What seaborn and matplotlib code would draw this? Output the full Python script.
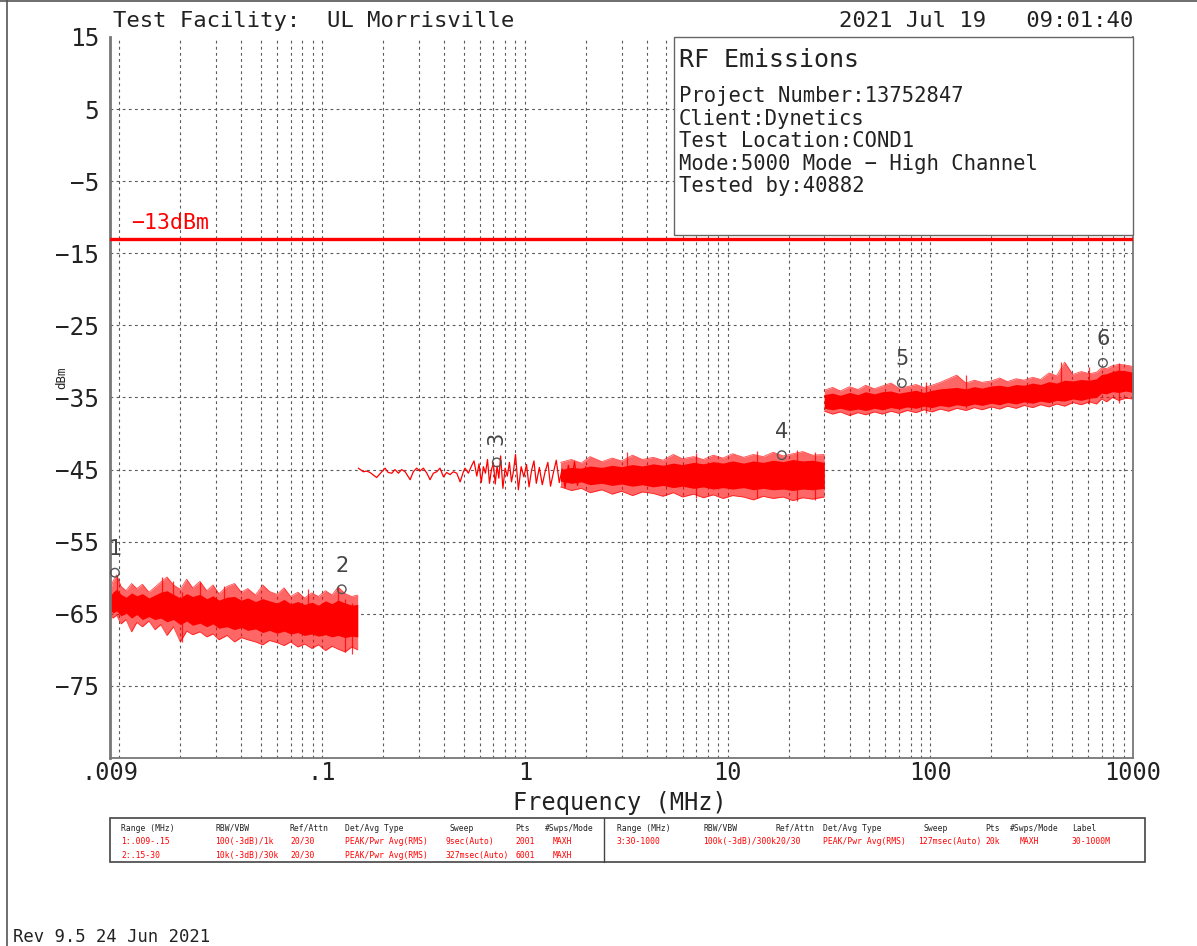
import numpy as np
import pandas as pd
import matplotlib
matplotlib.use("Agg")
import matplotlib.pyplot as plt
import seaborn as sns
from matplotlib.patches import Rectangle
from matplotlib.lines import Line2D
from matplotlib.ticker import FixedLocator, FixedFormatter, NullLocator

# ---------------- data ----------------
# Segment 1: 0.009 - 0.15 MHz (band envelopes, dBm)
seg1_f = [0.009, 0.0093, 0.0097, 0.0102, 0.0108, 0.0115, 0.0122, 0.013, 0.014, 0.015,
          0.016, 0.0172, 0.0185, 0.02, 0.0215, 0.023, 0.025, 0.027, 0.029, 0.031,
          0.034, 0.037, 0.04, 0.043, 0.047, 0.051, 0.055, 0.06, 0.065, 0.07,
          0.076, 0.082, 0.089, 0.096, 0.104, 0.112, 0.12, 0.13, 0.14, 0.15]
seg1_out_hi = [-62.0, -60.5, -59.6, -61.2, -61.8, -60.8, -61.5, -60.9, -62.0, -61.3,
               -60.6, -59.9, -61.0, -61.6, -60.2, -61.4, -60.5, -61.8, -61.0, -62.2,
               -61.2, -60.8, -62.0, -61.5, -62.4, -61.0, -61.9, -62.3, -61.4, -62.6,
               -62.0, -62.8, -62.1, -62.6, -61.8, -62.4, -61.3, -62.2, -62.6, -62.4]
seg1_core_hi = [-62.6, -62.0, -61.6, -62.3, -62.7, -62.1, -62.5, -62.2, -62.8, -62.4,
                -62.0, -61.8, -62.3, -62.8, -62.2, -62.6, -62.3, -62.9, -62.5, -63.1,
                -62.7, -62.6, -63.1, -62.8, -63.3, -62.9, -63.2, -63.5, -63.0, -63.6,
                -63.3, -63.7, -63.4, -63.8, -63.2, -63.6, -63.1, -63.5, -63.8, -63.7]
seg1_core_lo = [-64.4, -64.9, -64.6, -65.3, -64.9, -65.6, -65.1, -65.8, -65.4, -65.8,
                -65.6, -66.1, -65.8, -66.5, -66.0, -66.6, -66.3, -66.8, -66.4, -67.0,
                -66.8, -67.2, -66.9, -67.3, -67.1, -67.6, -67.3, -67.7, -67.4, -67.8,
                -67.6, -68.0, -67.8, -68.1, -67.9, -68.2, -68.0, -68.3, -68.1, -68.2]
seg1_out_lo = [-65.0, -65.6, -65.2, -66.4, -65.8, -67.5, -66.2, -66.8, -66.0, -67.2,
               -66.5, -68.0, -66.8, -68.9, -67.4, -67.9, -67.5, -68.2, -67.8, -68.6,
               -68.0, -68.9, -68.3, -68.6, -68.9, -69.3, -68.7, -69.0, -69.4, -68.9,
               -69.6, -69.2, -69.8, -69.3, -70.1, -69.5, -69.9, -70.3, -69.6, -70.0]

# Segment 2, sparse part of the trace: 0.15 - 2 MHz (dBm)
trace2_f = [0.151, 0.160, 0.166, 0.1725, 0.186, 0.197, 0.2046, 0.212, 0.221, 0.229,
            0.238, 0.247, 0.257, 0.272, 0.282, 0.293, 0.304, 0.316, 0.329, 0.341,
            0.354, 0.368, 0.382, 0.397, 0.412, 0.428, 0.444, 0.462, 0.480, 0.498,
            0.507, 0.527, 0.548, 0.562,
            0.58, 0.595, 0.61, 0.625, 0.64, 0.655, 0.67, 0.685, 0.70, 0.715,
            0.73, 0.745, 0.76, 0.78, 0.80, 0.82, 0.84, 0.86, 0.88, 0.90,
            0.93, 0.96, 0.99, 1.02, 1.05, 1.08, 1.11, 1.14, 1.18, 1.22,
            1.26, 1.30, 1.34, 1.38, 1.43, 1.48, 1.53, 1.58, 1.64, 1.70,
            1.76, 1.82, 1.88, 1.94, 2.0]
trace2_db = [-44.8, -45.3, -45.2, -45.4, -46.1, -45.3, -44.8, -45.4, -45.5, -45.0,
             -45.5, -45.0, -45.3, -46.4, -45.3, -44.8, -45.2, -44.8, -45.5, -46.4,
             -45.5, -45.3, -44.8, -46.0, -45.4, -45.7, -45.3, -45.5, -46.7, -45.3,
             -44.8, -45.5, -44.4, -43.8,
             -45.9, -44.2, -46.8, -44.6, -45.5, -43.6, -46.9, -45.0, -44.1, -47.0,
             -44.5, -46.2, -43.1, -47.6, -44.8, -45.9, -44.0, -46.7, -45.2, -42.9,
             -47.8, -44.6, -46.0, -44.3, -47.4, -45.1, -43.8, -46.9, -44.7, -47.1,
             -45.3, -44.0, -47.3, -45.6, -43.7, -46.8, -44.9, -47.5, -44.4, -46.6,
             -43.9, -47.2, -45.0, -46.4, -44.6]

# Segment 2, dense band: 1.5 - 30 MHz (dBm)
seg2_f = [1.5, 1.7, 1.9, 2.1, 2.4, 2.7, 3.0, 3.4, 3.8, 4.3, 4.8, 5.4, 6.0, 6.8,
          7.6, 8.5, 9.5, 10.6, 12, 13.4, 15, 16.8, 18.8, 21, 23.5, 26.3, 30]
seg2_out_hi = [-44.0, -43.6, -44.1, -43.2, -43.9, -43.4, -43.8, -43.0, -43.6, -43.3,
               -43.7, -42.9, -43.5, -43.2, -43.6, -43.0, -43.4, -42.8, -43.3, -42.9,
               -43.2, -42.6, -43.1, -42.8, -42.5, -43.0, -42.9]
seg2_core_hi = [-45.0, -44.7, -44.8, -44.5, -44.7, -44.4, -44.6, -44.3, -44.5, -44.2,
                -44.4, -44.1, -44.3, -44.0, -44.2, -43.9, -44.1, -43.8, -44.1, -43.8,
                -44.0, -43.7, -43.9, -43.6, -43.8, -43.7, -44.0]
seg2_core_lo = [-46.6, -46.9, -46.7, -47.1, -46.9, -47.2, -47.0, -47.3, -47.1, -47.4,
                -47.2, -47.5, -47.3, -47.6, -47.4, -47.7, -47.5, -47.7, -47.5, -47.8,
                -47.6, -47.8, -47.7, -47.9, -47.7, -47.8, -47.6]
seg2_out_lo = [-47.4, -47.9, -47.6, -48.2, -47.8, -48.4, -48.0, -48.6, -48.1, -48.3,
               -48.7, -48.2, -48.8, -48.4, -48.9, -48.5, -49.0, -48.6, -48.8, -49.2,
               -48.7, -49.0, -48.8, -49.3, -48.9, -49.1, -48.8]

# Segment 3: 30 - 1000 MHz (dBm)
seg3_f = [30, 33, 36, 40, 44, 48, 53, 58, 64, 70, 77, 85, 93, 102, 112, 123, 135,
          150, 165, 180, 200, 220, 240, 265, 290, 320, 350, 385, 420, 460, 505, 555,
          610, 660, 700, 740, 790, 850, 920, 1000]
seg3_out_hi = [-34.0, -33.6, -34.1, -33.5, -33.9, -33.3, -33.8, -33.4, -33.0, -33.7,
               -33.5, -33.2, -33.6, -33.3, -32.9, -32.4, -31.9, -33.0, -32.6, -32.9,
               -32.7, -32.3, -32.8, -32.4, -32.6, -32.2, -32.5, -31.6, -32.0, -30.1,
               -31.8, -31.4, -31.7, -31.5, -30.9, -31.0, -30.6, -30.4, -30.5, -30.7]
seg3_core_hi = [-34.6, -34.4, -34.7, -34.3, -34.6, -34.2, -34.5, -34.2, -34.1, -34.4,
                -34.2, -34.0, -34.3, -34.0, -33.8, -33.7, -33.6, -33.8, -33.5, -33.7,
                -33.4, -33.3, -33.5, -33.2, -33.3, -33.0, -33.2, -32.8, -33.0, -32.6,
                -32.7, -32.5, -32.6, -32.4, -31.8, -31.7, -31.4, -31.2, -31.3, -31.5]
seg3_core_lo = [-36.5, -36.7, -36.5, -36.8, -36.6, -36.8, -36.5, -36.7, -36.4, -36.6,
                -36.3, -36.5, -36.2, -36.4, -36.1, -36.3, -36.0, -36.2, -35.9, -36.1,
                -35.8, -36.0, -35.7, -35.9, -35.6, -35.8, -35.5, -35.7, -35.4, -35.5,
                -35.2, -35.4, -35.1, -35.0, -34.4, -34.5, -34.2, -34.3, -34.1, -34.3]
seg3_out_lo = [-36.9, -37.3, -37.0, -37.5, -37.1, -37.4, -37.0, -37.3, -36.9, -37.2,
               -36.8, -37.1, -36.7, -37.0, -36.6, -36.9, -36.5, -36.8, -36.4, -36.7,
               -36.3, -36.6, -36.2, -36.5, -36.1, -36.4, -36.0, -36.3, -35.9, -36.2,
               -35.7, -36.0, -35.6, -35.9, -35.2, -35.6, -35.0, -35.4, -35.1, -35.2]

# Isolated spikes (MHz, top dBm, bottom dBm)
spike_f = [0.0097, 0.0163, 0.0185, 0.0205, 0.025, 0.033, 0.085, 0.12, 0.13, 0.14,
           3.2, 7.0, 14.0, 22.0, 27.0, 95, 150, 440, 610, 850]
spike_top = [-59.6, -59.9, -60.5, -62.0, -60.6, -61.2, -61.5, -61.3, -63.0, -63.5,
             -42.6, -42.7, -42.4, -42.3, -42.6, -32.8, -31.9, -30.1, -30.8, -30.2]
spike_bot = [-63.0, -64.0, -64.0, -68.9, -64.5, -65.0, -66.0, -66.0, -70.3, -70.6,
             -46.0, -48.9, -49.0, -49.4, -49.2, -37.2, -36.5, -35.5, -35.9, -35.8]

# Markers (MHz, dBm of marker circle)
marker_id = ["1", "2", "3", "4", "5", "6"]
marker_f = [0.00952, 0.1251, 0.7277, 18.53, 72.4, 710.8]
marker_db = [-59.3, -61.6, -44.0, -43.0, -33.0, -30.2]

limit_db = -13
limit_label = "\u221213dBm"

x_ticks = [0.009, 0.1, 1, 10, 100, 1000]
x_ticklabels = [".009", ".1", "1", "10", "100", "1000"]
y_ticks = [15, 5, -5, -15, -25, -35, -45, -55, -65, -75]
y_ticklabels = ["15", "5", "\u22125", "\u221215", "\u221225", "\u221235",
                "\u221245", "\u221255", "\u221265", "\u221275"]

info_title = "RF Emissions"
info_lines = ["Project Number:13752847", "Client:Dynetics", "Test Location:COND1",
              "Mode:5000 Mode \u2212 High Channel", "Tested by:40882"]

# ---------------- figure ----------------
sns.set_theme(style="white")
plt.rcParams['font.family'] = ['DejaVu Sans Mono', 'DejaVu Sans']

W, H = 1197, 946
fig = plt.figure(figsize=(W / 100, H / 100), dpi=100)
fig.patch.set_facecolor("white")

def fx(x):
    return x / W

def fy(y):
    return 1 - y / H

L, R, T, B = 110, 1133, 37, 758
ax = fig.add_axes([fx(L), fy(B), (R - L) / W, (B - T) / H])
ax.set_facecolor("white")
ax.set_xscale("log")
ax.set_xlim(0.009, 1000)
ax.set_ylim(-85, 15)

# grid
gcol = "#5a5a5a"
gls = (0, (2.5, 3))
for e in range(-2, 3):
    for m in range(1, 10):
        v = m * 10.0 ** e
        if 0.0095 < v < 999:
            ax.axvline(v, color=gcol, lw=0.8, ls=gls, zorder=1)
for yv in range(-75, 15, 10):
    ax.axhline(yv, color=gcol, lw=0.8, ls=gls, zorder=1)

red = "#ff0000"
# outer (light) bands and solid cores
for f, ohi, chi, clo, olo in [
        (seg1_f, seg1_out_hi, seg1_core_hi, seg1_core_lo, seg1_out_lo),
        (seg2_f, seg2_out_hi, seg2_core_hi, seg2_core_lo, seg2_out_lo),
        (seg3_f, seg3_out_hi, seg3_core_hi, seg3_core_lo, seg3_out_lo)]:
    ax.fill_between(f, olo, ohi, color=red, alpha=0.6, lw=0, zorder=2)
    ax.fill_between(f, clo, chi, color=red, alpha=1.0, lw=0, zorder=2.2)
    sns.lineplot(x=f, y=ohi, ax=ax, color=red, lw=0.6, alpha=0.7, zorder=2.1,
                 sort=False)
    sns.lineplot(x=f, y=olo, ax=ax, color=red, lw=0.6, alpha=0.7, zorder=2.1,
                 sort=False)

sns.lineplot(x=trace2_f, y=trace2_db, ax=ax, color=red, lw=0.9, zorder=2.3,
             sort=False)
ax.vlines(spike_f, spike_bot, spike_top, color=red, lw=0.9, alpha=0.8, zorder=2.1)

# limit line
ax.axhline(limit_db, color=red, lw=2.4, zorder=4)
fig.text(fx(131), fy(223), limit_label, color=red, fontsize=15.5, va="center",
         ha="left")

# markers
for mid, mf, md in zip(marker_id, marker_f, marker_db):
    ax.scatter([mf], [md], s=38, facecolors="none", edgecolors="#555555",
               linewidths=1.0, zorder=5)
    rot = 90 if mid == "3" else 0
    ax.annotate(mid, (mf, md), xytext=(0, 17), textcoords="offset points",
                ha="center", va="center", fontsize=15, color="#444444",
                family="DejaVu Sans", rotation=rot, zorder=5)

# info box
ax.add_patch(Rectangle((0.5513, 0.7254), 0.4487, 0.2746, transform=ax.transAxes,
                       facecolor="white", edgecolor="#666666", lw=1.0, zorder=3,
                       clip_on=False))
fig.text(fx(679), fy(60), info_title, fontsize=18, color="#222222", va="center")
for i, line in enumerate(info_lines):
    fig.text(fx(679), fy(96 + i * 22.6), line, fontsize=14.8, color="#222222",
             va="center")

# axes styling
ax.spines["top"].set_visible(False)
for s in ["left", "bottom", "right"]:
    ax.spines[s].set_color("#777777")
    ax.spines[s].set_linewidth(1.3)
ax.spines["left"].set_linewidth(2.0)
ax.xaxis.set_major_locator(FixedLocator(x_ticks))
ax.xaxis.set_major_formatter(FixedFormatter(x_ticklabels))
ax.xaxis.set_minor_locator(NullLocator())
ax.yaxis.set_major_locator(FixedLocator(y_ticks))
ax.yaxis.set_major_formatter(FixedFormatter(y_ticklabels))
ax.tick_params(axis="x", length=0, pad=2, labelsize=17, labelcolor="#222222")
ax.tick_params(axis="y", length=4, width=1, color="#777777", pad=4,
               labelsize=17.5, labelcolor="#222222")
ax.set_xlabel("")
ax.set_ylabel("")

fig.text(fx(620), fy(803), "Frequency (MHz)", fontsize=17, ha="center",
         va="center", color="#222222")
fig.text(fx(62), fy(378), "dBm", fontsize=9, rotation=90, ha="center",
         va="center", color="#222222")

# header
fig.text(fx(113), fy(21), "Test Facility:  UL Morrisville", fontsize=16,
         va="center", ha="left", color="#222222")
fig.text(fx(1133), fy(21), "2021 Jul 19   09:01:40", fontsize=16, va="center",
         ha="right", color="#222222")

# page frame lines
fig.add_artist(Line2D([0, 1], [fy(1), fy(1)], color="#555555", lw=1.2))
fig.add_artist(Line2D([fx(7), fx(7)], [0, 1], color="#555555", lw=1.2))

# settings table
fig.add_artist(Rectangle((fx(110), fy(862)), (1145 - 110) / W, (862 - 818) / H,
                         transform=fig.transFigure, facecolor="white",
                         edgecolor="#444444", lw=1.2))
fig.add_artist(Line2D([fx(604), fx(604)], [fy(818), fy(862)], color="#444444",
                      lw=1.0))
tfs = 5.8
hdr_left = [(121, "Range (MHz)"), (215, "RBW/VBW"), (290, "Ref/Attn"),
            (345, "Det/Avg Type"), (450, "Sweep"), (515, "Pts"),
            (545, "#Swps/Mode")]
row1_left = [(121, "1:.009-.15"), (215, "100(-3dB)/1k"), (290, "20/30"),
             (345, "PEAK/Pwr Avg(RMS)"), (446, "9sec(Auto)"), (515, "2001"),
             (553, "MAXH")]
row2_left = [(121, "2:.15-30"), (215, "10k(-3dB)/30k"), (290, "20/30"),
             (345, "PEAK/Pwr Avg(RMS)"), (446, "327msec(Auto)"), (515, "6001"),
             (553, "MAXH")]
hdr_right = [(617, "Range (MHz)"), (703, "RBW/VBW"), (775, "Ref/Attn"),
             (823, "Det/Avg Type"), (923, "Sweep"), (985, "Pts"),
             (1010, "#Swps/Mode"), (1072, "Label")]
row1_right = [(617, "3:30-1000"), (703, "100k(-3dB)/300k20/30"),
              (823, "PEAK/Pwr Avg(RMS)"), (918, "127msec(Auto)"), (985, "20k"),
              (1020, "MAXH"), (1072, "30-1000M")]
for x, t in hdr_left + hdr_right:
    fig.text(fx(x), fy(828), t, fontsize=tfs, color="#222222", va="center")
for x, t in row1_left + row1_right:
    fig.text(fx(x), fy(841), t, fontsize=tfs, color=red, va="center")
for x, t in row2_left:
    fig.text(fx(x), fy(855), t, fontsize=tfs, color=red, va="center")

fig.text(fx(13), fy(937), "Rev 9.5 24 Jun 2021", fontsize=12.4, color="#222222",
         va="center", ha="left")

fig.savefig("out.png", dpi=100, facecolor="white")
